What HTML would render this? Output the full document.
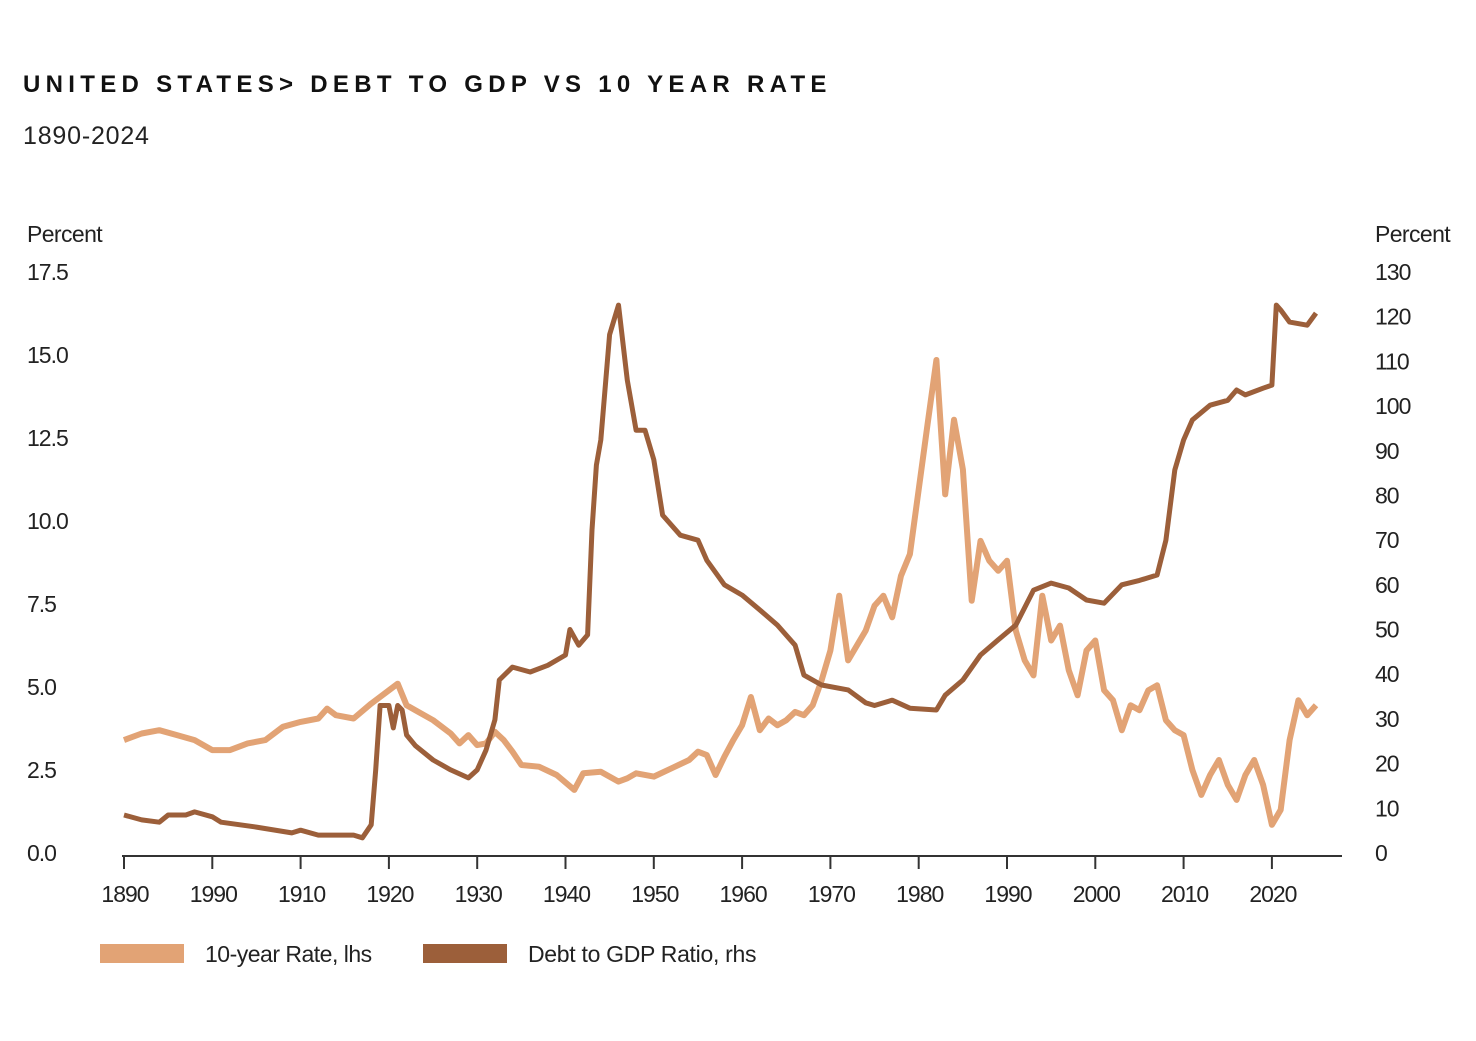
<!DOCTYPE html>
<html><head><meta charset="utf-8"><style>
body{margin:0;background:#fff;width:1476px;height:1036px;overflow:hidden;font-family:"Liberation Sans",sans-serif;}
</style></head><body>
<svg width="1476" height="1036" xmlns="http://www.w3.org/2000/svg">
<text x="23" y="92" font-size="24" font-weight="bold" letter-spacing="5.3" fill="#111">UNITED STATES&gt; DEBT TO GDP VS 10 YEAR RATE</text>
<text x="23" y="144" font-size="25" letter-spacing="0.8" fill="#222">1890-2024</text>
<text x="27" y="242" font-size="23" fill="#222" letter-spacing="-0.6">Percent</text>
<text x="1375" y="242" font-size="23" fill="#222" letter-spacing="-0.6">Percent</text>
<g id="axes"></g>
<g id="series"></g>
<rect x="100" y="944" width="84" height="19" fill="#e2a375"/>
<text x="205" y="962" font-size="23" fill="#222" letter-spacing="-0.5">10-year Rate, lhs</text>
<rect x="423" y="944" width="84" height="19" fill="#9c5f3a"/>
<text x="528" y="962" font-size="23" fill="#222" letter-spacing="-0.3">Debt to GDP Ratio, rhs</text>
</svg>
<script>
const xTickYears=[1890,1900,1910,1920,1930,1940,1950,1960,1970,1980,1990,2000,2010,2020];
const xTickLabels=["1890","1990","1910","1920","1930","1940","1950","1960","1970","1980","1990","2000","2010","2020"];
const leftTicks=[0,2.5,5,7.5,10,12.5,15,17.5];
const rightTicks=[0,10,20,30,40,50,60,70,80,90,100,110,120,130];
const rateYears=[1890,1892,1894,1896,1898,1900,1902,1904,1906,1908,1910,1912,1913,1914,1916,1918,1920,1921,1922,1923,1925,1927,1928,1929,1930,1931,1932,1933,1934,1935,1937,1939,1941,1942,1944,1946,1947,1948,1950,1952,1954,1955,1956,1957,1958,1959,1960,1961,1962,1963,1964,1965,1966,1967,1968,1969,1970,1971,1972,1973,1974,1975,1976,1977,1978,1979,1980,1981,1982,1983,1984,1985,1986,1987,1988,1989,1990,1991,1992,1993,1994,1995,1996,1997,1998,1999,2000,2001,2002,2003,2004,2005,2006,2007,2008,2009,2010,2011,2012,2013,2014,2015,2016,2017,2018,2019,2020,2021,2022,2023,2024,2025];
const rateValues=[3.4,3.6,3.7,3.55,3.4,3.1,3.1,3.3,3.4,3.8,3.95,4.05,4.35,4.15,4.05,4.5,4.9,5.1,4.45,4.3,4.0,3.6,3.3,3.55,3.25,3.3,3.65,3.4,3.05,2.65,2.6,2.35,1.9,2.4,2.45,2.15,2.25,2.4,2.3,2.55,2.8,3.05,2.95,2.35,2.9,3.4,3.85,4.7,3.7,4.05,3.85,4.0,4.25,4.15,4.45,5.2,6.1,7.75,5.8,6.25,6.7,7.45,7.75,7.1,8.35,9.0,10.95,12.9,14.85,10.8,13.05,11.55,7.6,9.4,8.8,8.5,8.8,6.7,5.8,5.35,7.75,6.4,6.85,5.5,4.75,6.1,6.4,4.9,4.6,3.7,4.45,4.3,4.9,5.05,4.0,3.7,3.55,2.5,1.75,2.35,2.8,2.05,1.6,2.35,2.8,2.05,0.85,1.3,3.4,4.6,4.15,4.45];
const debtYears=[1890,1892,1894,1895,1897,1898,1900,1901,1905,1909,1910,1912,1916,1917,1918,1918.5,1919,1920,1920.5,1921,1921.5,1922,1923,1925,1927,1929,1930,1931,1932,1932.5,1934,1936,1938,1940,1940.5,1941.5,1942.5,1943,1943.5,1944,1945,1946,1947,1948,1949,1950,1951,1953,1955,1956,1958,1960,1962,1964,1966,1967,1969,1972,1974,1975,1977,1979,1982,1983,1985,1987,1989,1991,1993,1995,1997,1999,2001,2003,2005,2007,2008,2009,2010,2011,2013,2015,2016,2017,2019,2020,2020.5,2021,2022,2024,2025];
const debtValues=[8.5,7.4,6.9,8.5,8.5,9.2,8.1,6.9,5.8,4.5,5.1,4.0,4.0,3.4,6.3,18.6,33,33,28,33,32,26.4,24,20.8,18.6,16.8,18.6,23,29.8,38.7,41.6,40.5,42,44.3,50,46.5,48.8,72.3,86.8,92.4,116,122.6,105.8,94.6,94.6,88,75.6,71.1,70,65.5,60,57.7,54.4,51,46.5,39.8,37.6,36.5,33.6,33,34.2,32.4,32,35.3,38.7,44.3,47.7,51,58.8,60.4,59.3,56.6,55.9,60,61,62.2,70,85.7,92.4,96.9,100.2,101.3,103.6,102.5,104,104.7,122.6,121.5,118.8,118.1,120.8];

const NS="http://www.w3.org/2000/svg";
const X0=124,PX=8.83,Y0=853;
const xs=y=>X0+(y-1890)*PX;
const yL=v=>Y0-v*(581/17.5);
const yR=v=>Y0-v*(581/130);
const axes=document.getElementById('axes'),ser=document.getElementById('series');
function mk(tag,attrs,parent){const e=document.createElementNS(NS,tag);for(const k in attrs)e.setAttribute(k,attrs[k]);parent.appendChild(e);return e;}
const ax=mk('line',{x1:122,y1:856,x2:1342,y2:856,stroke:'#333','stroke-width':2},axes);


xTickYears.forEach((yr,i)=>{
 const t=mk('line',{x1:xs(yr),y1:856,x2:xs(yr),y2:869,stroke:'#333','stroke-width':2},axes);
 
 
 const l=mk('text',{x:xs(yr)+1,y:902,'font-size':23,'text-anchor':'middle',fill:'#222','letter-spacing':'-1'},axes);
 l.textContent=xTickLabels[i];
 
 
});
leftTicks.forEach(v=>{
 const l=mk('text',{x:27,y:yL(v)+8,'font-size':23,fill:'#222','letter-spacing':'-1'},axes);
 l.textContent=v.toFixed(1);
 
 
});
rightTicks.forEach(v=>{
 const l=mk('text',{x:1375,y:yR(v)+8,'font-size':23,fill:'#222','letter-spacing':'-1'},axes);
 l.textContent=String(v);
 
 
});
const rp=mk('polyline',{points:rateYears.map((y,i)=>xs(y).toFixed(1)+','+yL(rateValues[i]).toFixed(1)).join(' '),fill:'none',stroke:'#e2a375','stroke-width':6,'stroke-linejoin':'round'},ser);


const dp=mk('polyline',{points:debtYears.map((y,i)=>xs(y).toFixed(1)+','+yR(debtValues[i]).toFixed(1)).join(' '),fill:'none',stroke:'#9c5f3a','stroke-width':5,'stroke-linejoin':'round'},ser);


</script>
</body></html>
